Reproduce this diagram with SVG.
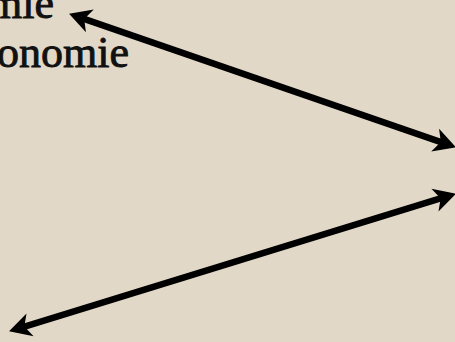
<svg xmlns="http://www.w3.org/2000/svg" width="455" height="342" viewBox="0 0 455 342">
<style>
.lbl{font-family:"Liberation Serif","Times New Roman",serif;font-size:44px;fill:#111;stroke:#111;stroke-width:0.9;text-anchor:end}
.con{stroke:#000;stroke-width:6.5;fill:none}
</style>
<defs>
<marker id="ah" markerUnits="userSpaceOnUse" markerWidth="26" markerHeight="28" viewBox="0 -14 23 28" refX="10" refY="0" orient="auto-start-reverse">
<path d="M22,0 L0,-12 L6,0 L0,12 Z" fill="#000"/>
</marker>
</defs>
<rect width="455" height="342" fill="#e2d8c7"/>
<g id="labels">
<text class="lbl" x="54" y="18">mie</text>
<text class="lbl" x="129" y="67">onomie</text>
</g>
<g id="connectors">
<line class="con" x1="80.4" y1="17.6" x2="444.6" y2="143.4" marker-start="url(#ah)" marker-end="url(#ah)"/>
<line class="con" x1="444.5" y1="197.2" x2="20.5" y2="327.8" marker-start="url(#ah)" marker-end="url(#ah)"/>
</g>
</svg>
